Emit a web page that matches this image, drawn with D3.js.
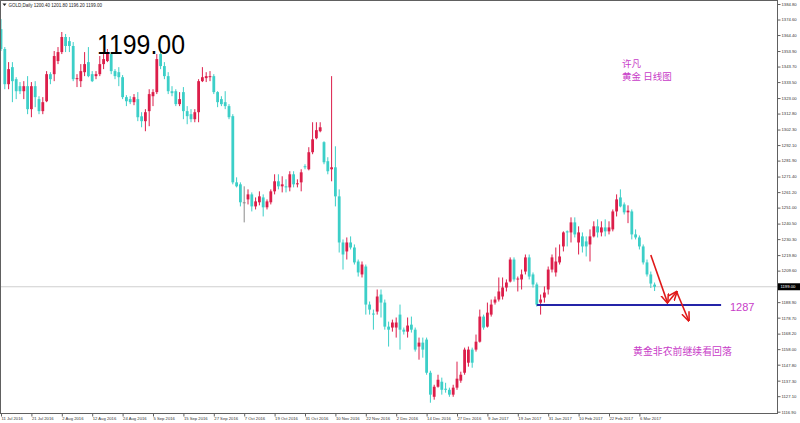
<!DOCTYPE html>
<html><head><meta charset="utf-8">
<script src="https://cdn.jsdelivr.net/npm/d3@7"></script>
<style>html,body{margin:0;padding:0;background:#fff;overflow:hidden}svg{display:block}</style>
</head><body>
<svg id="c" width="800" height="423"></svg>
<script>
// ---- data ----
const xTickLabels = ["11 Jul 2016","21 Jul 2016","2 Aug 2016","12 Aug 2016","24 Aug 2016","5 Sep 2016","15 Sep 2016","27 Sep 2016","7 Oct 2016","19 Oct 2016","31 Oct 2016","10 Nov 2016","22 Nov 2016","2 Dec 2016","14 Dec 2016","27 Dec 2016","9 Jan 2017","19 Jan 2017","31 Jan 2017","10 Feb 2017","22 Feb 2017","6 Mar 2017"];
const yTickValues = [1384.80,1374.60,1364.40,1353.90,1343.70,1333.50,1323.00,1312.80,1302.30,1292.10,1281.90,1271.40,1261.20,1251.00,1240.50,1230.30,1219.80,1209.60,1188.90,1178.70,1168.20,1158.00,1147.80,1137.30,1127.10,1116.90];
const openP = [1368.3,1355.2,1332.1,1343.3,1335.4,1330.8,1327.5,1330.8,1315.7,1330.8,1322.3,1314.4,1320.9,1338.7,1338.7,1347.3,1353.2,1363.1,1360.4,1357.2,1335.4,1334.1,1340.0,1346.6,1338.7,1337.4,1338.7,1345.3,1347.3,1351.9,1340.7,1340.0,1336.7,1323.6,1322.3,1320.3,1322.3,1311.0,1307.8,1314.4,1324.2,1326.9,1351.9,1344.0,1337.4,1327.5,1327.5,1319.0,1326.9,1314.4,1312.4,1309.1,1313.7,1334.1,1336.1,1336.7,1337.4,1326.9,1322.3,1320.3,1317.7,1311.1,1267.6,1266.3,1254.5,1256.4,1259.7,1251.8,1254.5,1257.7,1251.2,1254.5,1261.7,1268.3,1265.0,1265.0,1264.3,1272.9,1266.3,1267.6,1278.2,1276.2,1287.4,1296.6,1301.2,1294.0,1281.5,1276.2,1277.5,1258.4,1228.1,1222.2,1228.1,1224.8,1215.6,1207.1,1212.3,1187.3,1181.4,1182.7,1193.9,1188.6,1172.8,1172.2,1172.2,1180.7,1170.8,1169.5,1174.1,1170.8,1159.7,1162.3,1164.3,1142.5,1126.7,1133.3,1136.6,1132.0,1131.3,1128.1,1132.7,1137.3,1142.5,1149.1,1157.7,1157.7,1162.9,1179.4,1172.8,1180.7,1188.6,1190.6,1192.6,1198.5,1202.4,1216.9,1203.8,1203.8,1209.0,1218.3,1207.1,1200.5,1188.6,1191.9,1197.2,1210.3,1208.4,1215.0,1225.5,1235.4,1234.7,1241.3,1228.1,1232.1,1228.8,1226.8,1232.1,1238.7,1234.7,1238.0,1235.4,1236.7,1248.5,1257.7,1253.1,1247.9,1248.5,1233.4,1231.4,1225.5,1215.0,1207.1,1200.4];
const highP = [1374.9,1356.5,1346.6,1346.6,1336.7,1333.5,1334.1,1337.4,1333.5,1334.1,1324.2,1323.6,1340.7,1340.0,1353.9,1356.5,1366.4,1365.1,1363.1,1359.8,1338.7,1345.3,1353.2,1356.5,1340.7,1340.7,1350.6,1353.2,1355.2,1353.2,1342.0,1343.3,1338.1,1324.9,1324.2,1325.6,1326.9,1313.7,1315.7,1328.8,1328.8,1351.9,1353.9,1346.6,1340.0,1330.8,1328.8,1326.9,1330.2,1317.7,1315.7,1315.7,1335.4,1343.3,1340.0,1340.7,1338.7,1327.5,1324.2,1327.5,1319.0,1312.4,1270.9,1267.6,1265.0,1263.0,1261.0,1257.7,1261.7,1259.7,1256.4,1263.0,1272.9,1272.9,1271.6,1269.6,1274.9,1274.9,1269.6,1276.2,1279.5,1290.7,1307.1,1307.1,1307.1,1294.6,1284.1,1337.4,1291.3,1263.0,1230.1,1231.4,1232.1,1226.8,1216.9,1215.6,1213.6,1189.3,1184.0,1197.2,1197.2,1190.6,1176.1,1177.4,1178.8,1187.3,1172.2,1178.8,1179.4,1172.2,1165.6,1165.6,1165.6,1143.8,1134.6,1141.2,1139.3,1135.9,1132.7,1134.6,1149.8,1143.2,1159.0,1159.7,1159.0,1167.6,1184.0,1180.7,1188.6,1190.6,1192.6,1205.1,1205.1,1203.8,1218.3,1218.3,1205.7,1210.3,1220.2,1220.2,1208.4,1201.8,1193.9,1199.2,1212.3,1220.2,1224.8,1226.8,1235.4,1236.0,1244.6,1244.6,1238.7,1234.7,1232.1,1236.7,1242.0,1243.3,1242.0,1243.3,1242.0,1249.8,1259.7,1263.0,1254.4,1252.5,1249.8,1236.7,1232.7,1226.8,1216.9,1209.0,1201.8];
const lowP = [1353.9,1328.8,1328.8,1320.3,1322.3,1325.6,1322.3,1312.4,1310.4,1317.0,1312.4,1312.4,1320.3,1332.1,1334.1,1345.3,1351.9,1353.2,1353.2,1334.1,1330.2,1330.2,1337.4,1336.7,1333.5,1335.4,1337.4,1342.0,1346.6,1338.7,1335.4,1330.8,1322.3,1317.7,1319.0,1318.3,1307.8,1303.8,1301.2,1304.5,1317.7,1325.6,1342.0,1335.4,1325.6,1324.2,1317.7,1317.7,1309.1,1305.8,1307.1,1307.1,1307.1,1333.5,1333.5,1334.1,1325.6,1317.0,1317.7,1315.7,1309.1,1266.3,1264.3,1251.8,1241.3,1253.1,1248.5,1249.8,1252.5,1245.2,1249.8,1253.1,1259.7,1263.0,1261.0,1261.0,1261.7,1264.3,1264.3,1261.7,1276.2,1275.5,1286.1,1295.9,1300.5,1279.5,1272.9,1268.3,1251.8,1221.5,1210.3,1216.9,1223.5,1213.6,1205.7,1205.1,1180.7,1180.7,1170.8,1180.7,1178.8,1170.8,1159.7,1169.5,1165.6,1157.7,1167.6,1165.6,1168.9,1156.4,1151.1,1152.4,1141.2,1122.8,1124.8,1132.7,1128.1,1129.4,1126.7,1126.7,1131.3,1135.9,1141.2,1146.5,1145.8,1156.4,1162.3,1170.8,1172.2,1179.4,1187.3,1189.3,1190.6,1195.9,1201.8,1202.4,1195.9,1197.2,1207.1,1203.8,1198.5,1186.0,1180.7,1188.6,1193.9,1208.4,1205.7,1213.6,1222.2,1225.5,1228.1,1231.4,1220.2,1221.5,1218.9,1215.6,1231.4,1231.4,1232.1,1232.1,1233.4,1235.4,1245.2,1251.2,1246.5,1240.8,1230.1,1230.1,1223.5,1213.6,1205.7,1198.2,1196.2];
const closeP = [1355.2,1332.1,1342.0,1334.1,1327.5,1327.5,1330.8,1315.7,1330.8,1323.6,1314.4,1320.3,1338.7,1335.4,1350.6,1353.2,1363.1,1357.2,1357.2,1335.4,1336.1,1340.7,1345.3,1337.4,1334.1,1338.7,1345.3,1348.6,1353.2,1340.7,1337.4,1336.7,1323.6,1320.9,1320.3,1323.6,1310.4,1307.8,1313.7,1325.6,1326.9,1348.6,1344.0,1337.4,1327.5,1326.2,1319.0,1322.3,1314.4,1311.1,1309.1,1313.7,1334.1,1336.7,1337.4,1337.4,1326.9,1320.3,1319.0,1317.7,1310.4,1267.6,1265.0,1254.5,1254.5,1259.7,1251.8,1255.1,1258.4,1251.2,1255.1,1261.7,1268.3,1265.0,1266.3,1264.3,1272.9,1266.3,1267.0,1274.2,1277.5,1287.4,1295.9,1301.9,1303.8,1280.8,1274.9,1277.5,1258.4,1228.1,1220.2,1228.1,1224.8,1215.0,1208.4,1213.6,1187.3,1184.0,1180.7,1192.6,1188.6,1172.8,1170.8,1175.5,1175.5,1170.8,1169.5,1173.5,1170.8,1157.7,1162.3,1157.7,1142.5,1128.1,1133.3,1137.9,1131.3,1131.3,1128.1,1132.7,1138.6,1141.2,1157.7,1157.7,1149.1,1162.9,1179.4,1172.2,1182.0,1187.3,1190.6,1195.9,1198.5,1201.8,1216.9,1203.8,1204.4,1207.1,1218.3,1205.7,1200.5,1187.3,1190.6,1195.2,1210.3,1218.3,1215.6,1218.9,1234.7,1234.7,1241.3,1233.4,1234.7,1225.5,1225.5,1232.1,1238.7,1234.7,1238.0,1235.4,1238.0,1248.5,1256.4,1251.8,1247.9,1249.0,1233.4,1231.4,1225.5,1215.0,1207.1,1201.1,1199.0];
const headerText = "GOLD,Daily 1200.40 1201.80 1196.20 1199.00";
const lastPrice = 1199.00;
const supportLevel = 1187;
const supportLabel = "1287";
const bigPriceText = "1199.00";
const authorLines = ["许凡","黄金 日线图"];
const noteText = "黄金非农前继续看回落";
// arrow path in (bar index, price)
const arrowPts = [[171,1219.9],[175.4,1188.5],[177.8,1195.7],[181,1176.7]];

// ---- layout ----
const frame = {l:0.5, t:0.5, r:777.5, b:413.5};
const bull = "#dc1e4a", bear = "#3ccfc8";
const svg = d3.select("#c");
const x = d3.scaleLinear().domain([0,172]).range([1, 1+172*3.8]);
const y = d3.scaleLinear().domain([1116.9,1384.8]).range([411.7,4]);
const bars = openP.map((o,i)=>({i,o,h:highP[i],l:lowP[i],c:closeP[i]}));

svg.append("defs").append("clipPath").attr("id","clip")
  .append("rect").attr("x",frame.l).attr("y",frame.t).attr("width",frame.r-frame.l).attr("height",frame.b-frame.t);
svg.select("defs").append("marker").attr("id","ah").attr("viewBox","0 0 10 10").attr("refX",9).attr("refY",5)
  .attr("markerWidth",6).attr("markerHeight",6).attr("orient","auto-start-reverse")
  .append("path").attr("d","M0,1 L10,5 L0,9").attr("fill","none").attr("stroke","#e01818").attr("stroke-width",1.6);

const g = svg.append("g").attr("clip-path","url(#clip)");

// bid line
g.append("line").attr("x1",frame.l).attr("x2",frame.r).attr("y1",y(lastPrice)).attr("y2",y(lastPrice))
  .attr("stroke","#cfcfcf").attr("stroke-width",1);

const col = d => d.c > d.o ? bull : (d.c < d.o ? bear : "#8a8a8a");
g.selectAll("line.wick").data(bars).join("line").attr("class","wick")
  .attr("x1",d=>x(d.i)).attr("x2",d=>x(d.i))
  .attr("y1",d=>y(d.h)).attr("y2",d=>y(d.l))
  .attr("stroke",col).attr("stroke-width",1);
g.selectAll("rect.body").data(bars).join("rect").attr("class","body")
  .attr("x",d=>x(d.i)-1.4).attr("width",2.8)
  .attr("y",d=>y(Math.max(d.o,d.c)))
  .attr("height",d=>Math.max(1,Math.abs(y(d.o)-y(d.c))))
  .attr("fill",col);

// support line
g.append("line").attr("x1",x(141)).attr("x2",x(189.5)).attr("y1",y(supportLevel)).attr("y2",y(supportLevel))
  .attr("stroke","#2424a8").attr("stroke-width",2);
svg.append("text").attr("x",730).attr("y",y(supportLevel)+5.5).text(supportLabel)
  .attr("font-family","Liberation Sans, Arial, sans-serif").attr("font-size",11).attr("fill","#c83cc8");

// arrows
for (let k=0;k<arrowPts.length-1;k++){
  svg.append("line").attr("x1",x(arrowPts[k][0])).attr("y1",y(arrowPts[k][1]))
    .attr("x2",x(arrowPts[k+1][0])).attr("y2",y(arrowPts[k+1][1]))
    .attr("stroke","#e01818").attr("stroke-width",1.6).attr("marker-end","url(#ah)");
}

// frame
svg.append("rect").attr("x",frame.l).attr("y",frame.t).attr("width",frame.r-frame.l).attr("height",frame.b-frame.t)
  .attr("fill","none").attr("stroke","#606060").attr("stroke-width",1);

// y axis
const yAxis = d3.axisRight(y).tickValues(yTickValues).tickSize(3).tickPadding(1).tickFormat(d3.format(".2f"));
const ya = svg.append("g").attr("transform",`translate(${frame.r},0)`).call(yAxis);
ya.select(".domain").remove();
ya.selectAll("line").attr("stroke","#606060");
ya.selectAll("text").attr("font-family","Liberation Sans, Arial, sans-serif").attr("font-size",4.2).attr("fill","#333");

// x axis
const xAxis = d3.axisBottom(x).tickValues(d3.range(0,172,8)).tickSize(3).tickPadding(1).tickFormat((d,i)=>xTickLabels[i]);
const xa = svg.append("g").attr("transform",`translate(0,${frame.b})`).call(xAxis);
xa.select(".domain").remove();
xa.selectAll("line").attr("stroke","#606060");
xa.selectAll("text").attr("text-anchor","start").attr("dx",0).attr("font-family","Liberation Sans, Arial, sans-serif").attr("font-size",4.2).attr("fill","#333");

// last price box
svg.append("rect").attr("x",778).attr("y",y(lastPrice)-3.5).attr("width",22).attr("height",7).attr("fill","#000");
svg.append("text").attr("x",780.5).attr("y",y(lastPrice)+1.6).text(lastPrice.toFixed(2))
  .attr("font-family","Liberation Sans, Arial, sans-serif").attr("font-size",4.2).attr("fill","#fff");

// header
svg.append("path").attr("d","M2.5,3.5 L6.5,3.5 L4.5,6 Z").attr("fill","#222");
svg.append("text").attr("x",8.5).attr("y",6.8).text(headerText)
  .attr("font-family","Liberation Sans, Arial, sans-serif").attr("font-size",4.5).attr("fill","#222");

// big price
svg.append("text").attr("x",97).attr("y",53.5).text(bigPriceText)
  .attr("font-family","Liberation Sans, Arial, sans-serif").attr("font-size",27.5)
  .attr("textLength",88).attr("lengthAdjust","spacingAndGlyphs").attr("fill","#000");

// author notes
authorLines.forEach((t,k)=>{
  svg.append("text").attr("x",622).attr("y",66.5+k*13.5).text(t)
    .attr("font-family","Noto Sans CJK SC, sans-serif").attr("font-size",9.5).attr("fill","#c83cc8");
});
svg.append("text").attr("x",633).attr("y",355).text(noteText)
  .attr("font-family","Noto Sans CJK SC, sans-serif").attr("font-size",9.9).attr("fill","#c83cc8");
</script>
</body></html>
